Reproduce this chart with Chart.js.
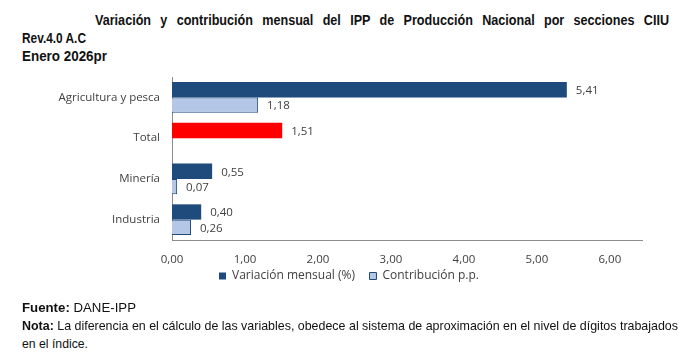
<!DOCTYPE html>
<html><head><meta charset="utf-8">
<script src="https://cdn.jsdelivr.net/npm/chart.js@4"></script>
<style>
html,body{margin:0;padding:0;background:#fff;width:700px;height:355px;overflow:hidden;}
.t{position:absolute;font-family:'Liberation Sans',Arial,sans-serif;color:#111;white-space:nowrap;font-size:13px;line-height:18px;}
.b{font-weight:bold;font-size:14px;}
#title{left:95px;top:11px;}
#sub1{left:22px;top:29px;}
#sub2{left:22px;top:47px;}
#f1{left:22px;top:299px;}
#f2{left:22px;top:317px;}
#f3{left:22px;top:335px;}
#wrap{position:absolute;left:0;top:0;width:700px;height:300px;}
</style></head>
<body>
<div class="t b" id="title">Variación y contribución mensual del IPP de Producción Nacional por secciones CIIU</div>
<div class="t b" id="sub1">Rev.4.0 A.C</div>
<div class="t b" id="sub2">Enero 2026pr</div>
<div id="wrap"><canvas id="c"></canvas></div>
<div class="t" id="f1"><b>Fuente:</b> DANE-IPP</div>
<div class="t" id="f2"><b>Nota:</b> La diferencia en el cálculo de las variables, obedece al sistema de aproximación en el nivel de dígitos trabajados</div>
<div class="t" id="f3">en el índice.</div>
<script>
const categories = ['Agricultura y pesca', 'Total', 'Minería', 'Industria'];
const variacion = [5.41, 1.51, 0.55, 0.40];
const contribucion = [1.18, null, 0.07, 0.26];
const seriesNames = ['Variación mensual (%)', 'Contribución p.p.'];
const xTicks = [0, 1, 2, 3, 4, 5, 6];

// fit HTML text lines to the widths seen in the reference (Calibri-like narrow text)
function fit(id, w, glyphScale) {
  const el = document.getElementById(id);
  el.style.display = 'inline-block';
  const nat = el.getBoundingClientRect().width;
  el.style.transformOrigin = '0 0';
  if (glyphScale && nat * glyphScale < w) {
    const n = (el.textContent.match(/ /g) || []).length;
    el.style.wordSpacing = ((w / glyphScale - nat) / n) + 'px';
    el.style.transform = 'scaleX(' + glyphScale + ')';
  } else {
    el.style.transform = 'scaleX(' + (w / nat) + ')';
  }
}
fit('title', 574, 0.9);
fit('sub1', 64);
fit('sub2', 85);
fit('f1', 114);
fit('f2', 656);
fit('f3', 66);

const NAVY = '#1F4A7C', LIGHT = '#B4C7E7', RED = '#FF0000', TXT = '#404040';
const FONT = "'Open Sans', sans-serif";
const fmt = v => v.toFixed(2).replace('.', ',');

const valueLabels = {
  id: 'valueLabels',
  afterDatasetsDraw(chart) {
    const ctx = chart.ctx;
    ctx.save();
    ctx.font = '11.5px ' + FONT;
    ctx.fillStyle = TXT;
    ctx.textBaseline = 'middle';
    ctx.textAlign = 'left';
    chart.data.datasets.forEach((ds, i) => {
      chart.getDatasetMeta(i).data.forEach((el, j) => {
        const v = ds.data[j];
        if (v == null) return;
        ctx.fillText(fmt(v), el.x + 9, el.y + 1);
      });
    });
    ctx.restore();
  }
};

new Chart(document.getElementById('c'), {
  type: 'bar',
  data: {
    labels: categories,
    datasets: [
      { label: seriesNames[0], data: variacion,
        backgroundColor: c => (c.dataIndex === 1 ? RED : NAVY),
        borderWidth: 0 },
      { label: seriesNames[1], data: contribucion,
        backgroundColor: LIGHT, borderColor: NAVY, borderWidth: 1 }
    ]
  },
  options: {
    indexAxis: 'y',
    responsive: true,
    maintainAspectRatio: false,
    animation: false,
    datasets: { bar: { categoryPercentage: 0.75, barPercentage: 1.0 } },
    layout: { padding: { top: 77, left: 56, right: 58, bottom: 8 } },
    scales: {
      x: {
        min: 0, max: 6.44,
        grid: { display: false, drawTicks: false },
        border: { display: true, color: '#8C8C8C', width: 1 },
        afterBuildTicks: s => { s.ticks = xTicks.map(v => ({ value: v })); },
        afterFit: s => { s.height = 28; },
        ticks: { padding: 13, color: TXT, font: { family: FONT, size: 11.5 }, callback: v => fmt(v) }
      },
      y: {
        grid: { display: false, drawTicks: false },
        border: { display: true, color: '#8C8C8C', width: 1 },
        afterFit: s => { s.width = 116; },
        ticks: { padding: 12, color: TXT, font: { family: FONT, size: 11.5 } }
      }
    },
    plugins: {
      legend: {
        position: 'bottom',
        labels: {
          boxWidth: 7, boxHeight: 7, padding: 2, color: TXT, font: { family: FONT, size: 12 },
          generateLabels: chart => {
            const items = Chart.defaults.plugins.legend.labels.generateLabels(chart);
            items[0].text = items[0].text + '    ';
            return items;
          }
        }
      },
      tooltip: { enabled: false }
    }
  },
  plugins: [valueLabels]
});
</script>
</body></html>
